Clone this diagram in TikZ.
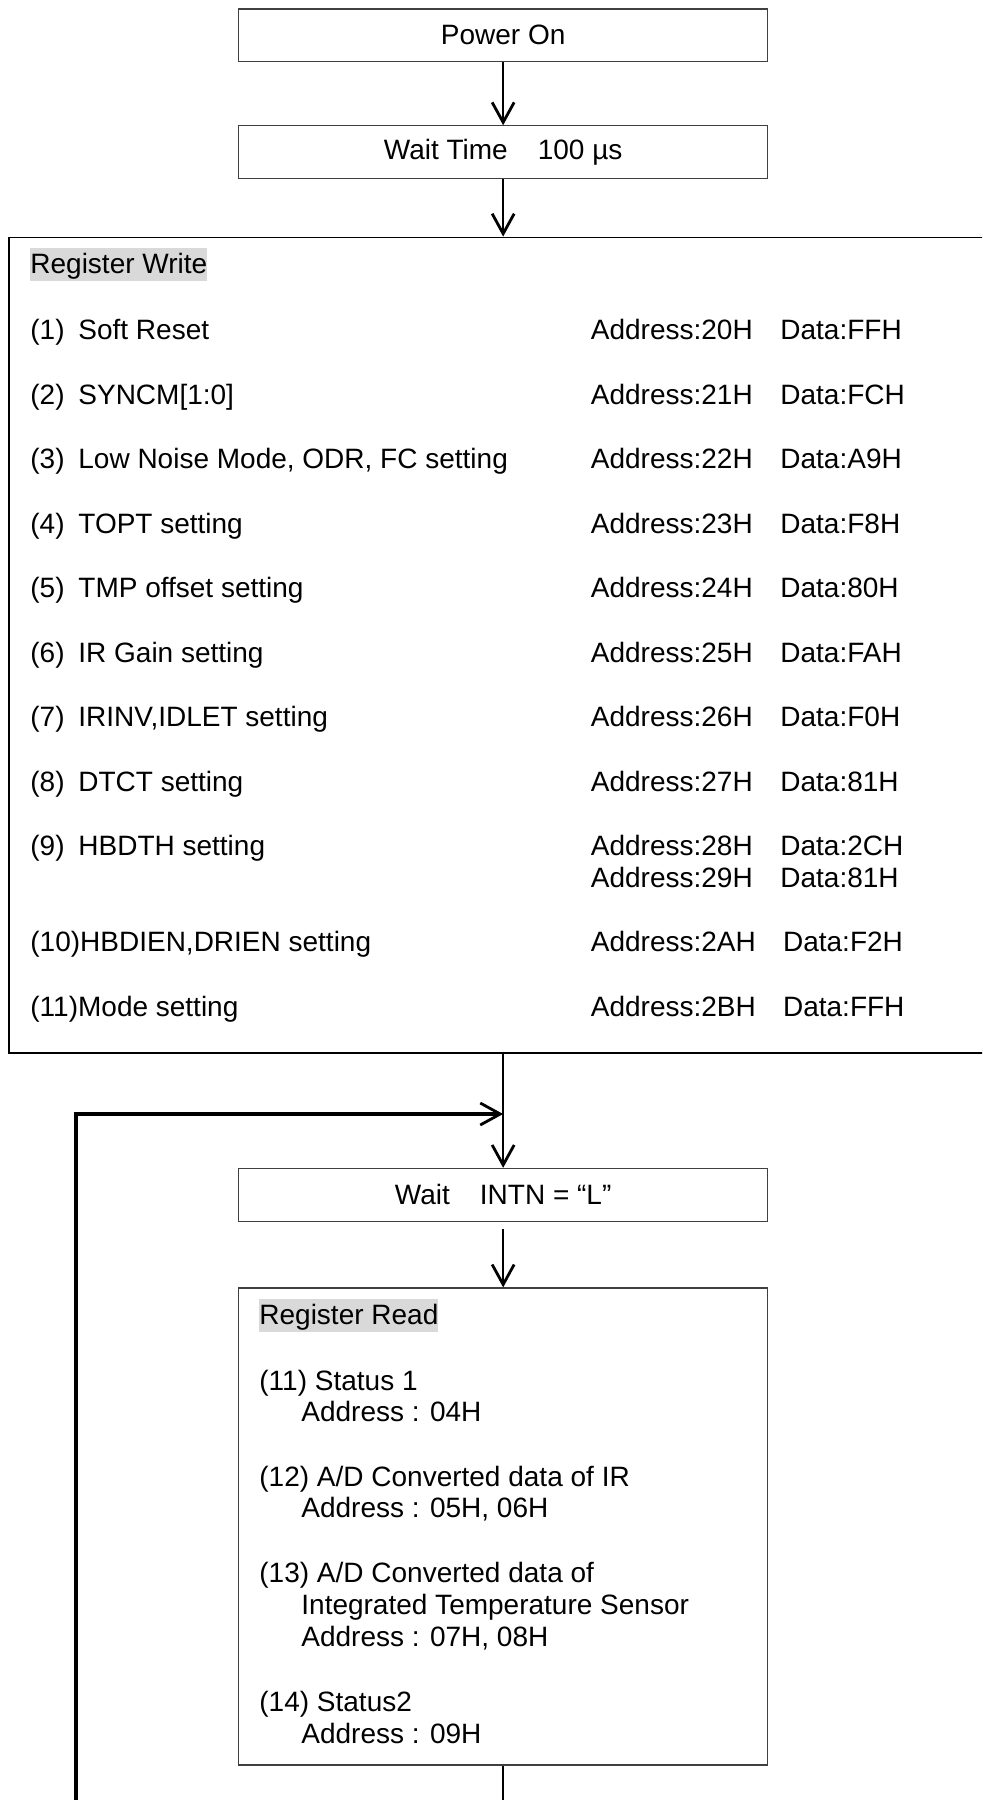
\documentclass[tikz,border=0pt]{standalone}
\usepackage{fontspec}
\setmainfont{Liberation Sans}
\usetikzlibrary{arrows.meta}
\definecolor{hl}{RGB}{217,217,217}
\definecolor{boxgray}{RGB}{64,64,64}
\newcommand\regrow[6]{%
  \node[txt] (n#1) at (30,#2) {#3};
  \node[txt] (l#1) at (78,#2) {#4};
  \node[txt] (a#1) at (590.5,#2) {#5};
  \node[txt] (d#1) at (780,#2) {#6};}
\begin{document}
\begin{tikzpicture}[x=0.5pt,y=-0.5pt,
  every node/.style={font=\fontsize{14pt}{16pt}\selectfont},
  flowbox/.style={draw=boxgray, line width=0.6pt, minimum width=264.5pt, minimum height=26.35pt, inner sep=0pt},
  bigbox/.style={draw=black, line width=0.9pt, inner sep=0pt},
  arr/.style={line width=1.2pt, -{Straight Barb[length=10pt,width=11pt,line width=1.4pt]}},
  plainline/.style={line width=1.2pt},
  loopline/.style={line width=1.7pt, -{Straight Barb[length=10pt,width=11pt,line width=1.4pt]}},
  txt/.style={anchor=base west, inner sep=0pt},
  hlt/.style={anchor=base west, inner sep=0pt, fill=hl, text height=12.65pt, text depth=3.85pt}]
\clip (0,0) rectangle (982,1800);

% main boxes
\node[flowbox] (pon) at (503.15,35.35) {Power On};
\node[flowbox] (wt) at (503.15,152.2) {Wait Time\hspace{15pt}100 µs};
\node[bigbox, minimum width=495.35pt, minimum height=407.75pt] (rw) at (504.65,645.25) {};
\node[flowbox] (wint) at (503.15,1194.8) {Wait\hspace{15pt}INTN = “L”};
\node[flowbox, minimum height=238.5pt] (rr) at (503.15,1526.5) {};

% connectors
\draw[arr] (pon.south) -- (wt.north);
\draw[arr] (wt.south) -- (wt.south |- rw.north);
\draw[arr] (wint.north |- rw.south) -- (wint.north);
\draw[arr, shorten <=3.5pt] (wint.south) -- (wint.south |- rr.north);
\coordinate (j) at (wint.north |- 0,1114);
\coordinate (lb) at (76,1815);
\draw[loopline] (lb) |- (j);
\coordinate (rb) at (503.15,1815);
\draw[plainline] (rr.south) -- (rb);

% Register Write contents
\node[hlt] (rwt) at (30,273.3) {Register Write};
\regrow{1}{339.5}{(1)}{Soft Reset}{Address:20H}{Data:FFH}
\regrow{2}{404}{(2)}{SYNCM[1:0]}{Address:21H}{Data:FCH}
\regrow{3}{468.5}{(3)}{Low Noise Mode, ODR, FC setting}{Address:22H}{Data:A9H}
\regrow{4}{533}{(4)}{TOPT setting}{Address:23H}{Data:F8H}
\regrow{5}{597.5}{(5)}{TMP offset setting}{Address:24H}{Data:80H}
\regrow{6}{662}{(6)}{IR Gain setting}{Address:25H}{Data:FAH}
\regrow{7}{726.5}{(7)}{IRINV,IDLET setting}{Address:26H}{Data:F0H}
\regrow{8}{791}{(8)}{DTCT setting}{Address:27H}{Data:81H}
\regrow{9}{855.5}{(9)}{HBDTH setting}{Address:28H}{Data:2CH}
\node[txt] (a9b) at (590.5,887) {Address:29H};
\node[txt] (d9b) at (780,887) {Data:81H};
\node[txt] (l10) at (30,951.5) {(10)HBDIEN,DRIEN setting};
\node[txt] (a10) at (590.5,951.5) {Address:2AH};
\node[txt] (d10) at (782.7,951.5) {Data:F2H};
\node[txt] (l11) at (30,1016) {(11)Mode setting};
\node[txt] (a11) at (590.5,1016) {Address:2BH};
\node[txt] (d11) at (782.7,1016) {Data:FFH};

% Register Read contents
\node[hlt] (rrt) at (259,1324.3) {Register Read};
\node[txt] (r11) at (259,1390) {(11) Status 1};
\node[txt] (r11a) at (301,1421.5) {Address : 04H};
\node[txt] (r12) at (259,1486) {(12) A/D Converted data of IR};
\node[txt] (r12a) at (301,1517.5) {Address : 05H, 06H};
\node[txt] (r13) at (259,1582.5) {(13) A/D Converted data of};
\node[txt] (r13b) at (301,1614) {Integrated Temperature Sensor};
\node[txt] (r13a) at (301,1646) {Address : 07H, 08H};
\node[txt] (r14) at (259,1711.5) {(14) Status2};
\node[txt] (r14a) at (301,1743.5) {Address : 09H};
\end{tikzpicture}
\end{document}
